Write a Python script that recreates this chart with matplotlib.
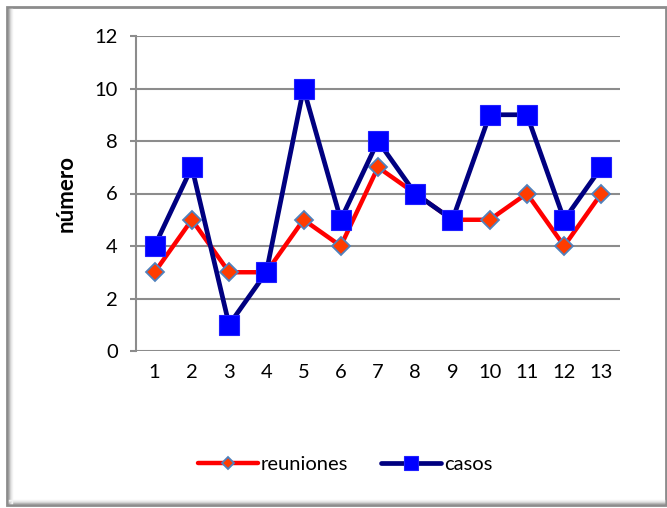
import matplotlib
matplotlib.use('Agg')
import matplotlib.pyplot as plt
from matplotlib.patches import Rectangle
from matplotlib.lines import Line2D

plt.rcParams['font.family'] = ['Lato', 'DejaVu Sans']

categorias = list(range(1, 14))
reuniones = [3, 5, 3, 3, 5, 4, 7, 6, 5, 5, 6, 4, 6]
casos = [4, 7, 1, 3, 10, 5, 8, 6, 5, 9, 9, 5, 7]
y_ticks = [0, 2, 4, 6, 8, 10, 12]

W, H = 667, 508
fig = plt.figure(figsize=(W / 100, H / 100), dpi=100)
fig.patch.set_facecolor('white')

# outer frame with bevel shading
fig.patches.append(Rectangle((7 / W, 1 - 505 / H), 659 / W, 498 / H, transform=fig.transFigure,
                             fill=False, edgecolor='#8c8c8c', linewidth=2, zorder=0))
for i, c in enumerate(['#b0b0b0', '#cfcfcf', '#e4e4e4', '#f2f2f2']):
    fig.lines.append(Line2D([(9 + i) / W] * 2, [1 - 503 / H, 1 - 9 / H], transform=fig.transFigure,
                            color=c, linewidth=1))
    fig.lines.append(Line2D([9 / W, 664 / W], [1 - (503 - i) / H] * 2, transform=fig.transFigure,
                            color=c, linewidth=1))

ax = fig.add_axes([136 / W, 1 - 351 / H, (620 - 136) / W, (351 - 36) / H])
ax.plot(categorias, reuniones, color='#ff0000', linewidth=3.2, marker='D', markersize=9,
        markerfacecolor='#ff3c00', markeredgecolor='#4f81bd', markeredgewidth=1.3,
        label='reuniones', zorder=3, solid_capstyle='round')
ax.plot(categorias, casos, color='#000080', linewidth=3.4, marker='s', markersize=14,
        markerfacecolor='#0000ff', markeredgecolor='#2020ff', markeredgewidth=0.8,
        label='casos', zorder=4, solid_capstyle='round')

ax.set_xlim(0.5, 13.5)
ax.set_ylim(0, 12)
ax.set_xticks(categorias)
ax.set_yticks(y_ticks)
ax.grid(axis='y', color='#8c8c8c', linewidth=1.5)
ax.set_axisbelow(True)
for s in ['top', 'right', 'bottom']:
    ax.spines[s].set_visible(False)
ax.spines['left'].set_color('#8c8c8c')
ax.spines['left'].set_linewidth(1.5)
ax.tick_params(axis='y', length=4, color='#8c8c8c', width=1.5, labelsize=14.5, pad=9)
ax.tick_params(axis='x', length=0, labelsize=14.5, pad=9)
ax.set_ylabel('número', fontsize=16, fontweight='bold', labelpad=13)

ax.legend(loc='center', bbox_to_anchor=(345 / W, 1 - 464 / H), bbox_transform=fig.transFigure,
          ncol=2, frameon=False, fontsize=14.5, handlelength=3.0, handletextpad=0.15,
          columnspacing=1.6, markerscale=0.7)

fig.savefig('out.png', dpi=100)
